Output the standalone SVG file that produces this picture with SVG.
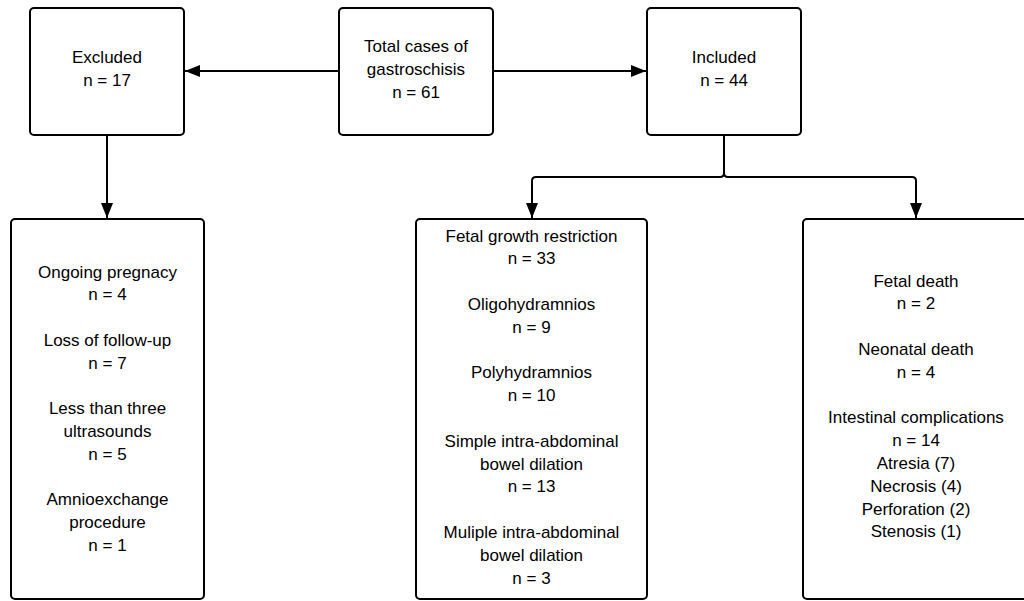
<svg xmlns="http://www.w3.org/2000/svg" width="1024" height="601" viewBox="0 0 1024 601">
<defs>
<style>
.box{fill:#fff;stroke:#000;stroke-width:2}
.t{font-family:"Liberation Sans",Arial,sans-serif;font-size:17px;fill:#000;text-anchor:middle;dominant-baseline:central}
.c{fill:none;stroke:#000;stroke-width:2}
</style>
<marker id="ah" markerWidth="15" markerHeight="12" refX="15" refY="6" orient="auto" markerUnits="userSpaceOnUse">
<path d="M0,0 L15,6 L0,12 Z" fill="#000"/>
</marker>
</defs>
<rect width="1024" height="601" fill="#fff"/>
<g id="connectors">
<path class="c" d="M339,71 H185" marker-end="url(#ah)"/>
<path class="c" d="M493,71 H646" marker-end="url(#ah)"/>
<path class="c" d="M107,135 V218" marker-end="url(#ah)"/>
<path class="c" d="M724,135 V173 Q724,177 720,177 H536 Q532,177 532,181 V218" marker-end="url(#ah)"/>
<path class="c" d="M724,173 Q724,177 728,177 H912 Q916,177 916,181 V218" marker-end="url(#ah)"/>
</g>
<g id="excluded">
<rect class="box" x="30" y="8" width="154" height="127" rx="4"/>
<text class="t" x="107" y="57">Excluded</text>
<text class="t" x="107" y="80">n = 17</text>
</g>
<g id="total">
<rect class="box" x="339" y="8" width="154" height="127" rx="4"/>
<text class="t" x="416" y="46">Total cases of</text>
<text class="t" x="416" y="69">gastroschisis</text>
<text class="t" x="416" y="92">n = 61</text>
</g>
<g id="included">
<rect class="box" x="647" y="8" width="154" height="127" rx="4"/>
<text class="t" x="724" y="57">Included</text>
<text class="t" x="724" y="80">n = 44</text>
</g>
<g id="excluded-details">
<rect class="box" x="11" y="219" width="193" height="380" rx="4"/>
<text class="t" x="107.5" y="272">Ongoing pregnacy</text>
<text class="t" x="107.5" y="294.8">n = 4</text>
<text class="t" x="107.5" y="340.3">Loss of follow-up</text>
<text class="t" x="107.5" y="363">n = 7</text>
<text class="t" x="107.5" y="408.5">Less than three</text>
<text class="t" x="107.5" y="431.3">ultrasounds</text>
<text class="t" x="107.5" y="454">n = 5</text>
<text class="t" x="107.5" y="499.5">Amnioexchange</text>
<text class="t" x="107.5" y="522.3">procedure</text>
<text class="t" x="107.5" y="545">n = 1</text>
</g>
<g id="included-findings">
<rect class="box" x="416" y="219" width="231" height="380" rx="4"/>
<text class="t" x="531.5" y="236">Fetal growth restriction</text>
<text class="t" x="531.5" y="258.8">n = 33</text>
<text class="t" x="531.5" y="304.4">Oligohydramnios</text>
<text class="t" x="531.5" y="327.2">n = 9</text>
<text class="t" x="531.5" y="372.8">Polyhydramnios</text>
<text class="t" x="531.5" y="395.6">n = 10</text>
<text class="t" x="531.5" y="441.2">Simple intra-abdominal</text>
<text class="t" x="531.5" y="464">bowel dilation</text>
<text class="t" x="531.5" y="486.8">n = 13</text>
<text class="t" x="531.5" y="532.4">Muliple intra-abdominal</text>
<text class="t" x="531.5" y="555.2">bowel dilation</text>
<text class="t" x="531.5" y="578">n = 3</text>
</g>
<g id="included-outcomes">
<rect class="box" x="803" y="219" width="227" height="380" rx="4"/>
<text class="t" x="916" y="281">Fetal death</text>
<text class="t" x="916" y="303.8">n = 2</text>
<text class="t" x="916" y="349.4">Neonatal death</text>
<text class="t" x="916" y="372.2">n = 4</text>
<text class="t" x="916" y="417.8">Intestinal complications</text>
<text class="t" x="916" y="440.6">n = 14</text>
<text class="t" x="916" y="463.4">Atresia (7)</text>
<text class="t" x="916" y="486.2">Necrosis (4)</text>
<text class="t" x="916" y="509">Perforation (2)</text>
<text class="t" x="916" y="531.8">Stenosis (1)</text>
</g>
</svg>
